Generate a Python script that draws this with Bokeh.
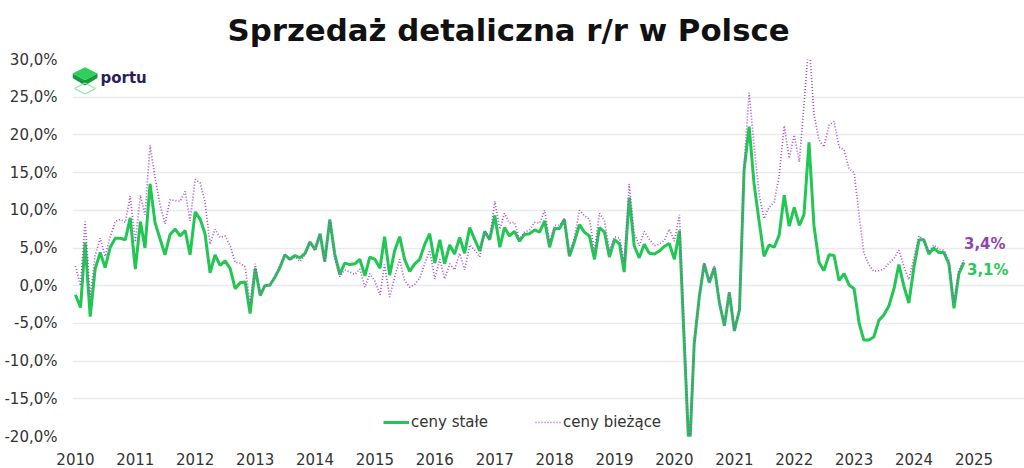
import pandas as pd
from bokeh.plotting import figure
from bokeh.models import (Range1d, FixedTicker, DatetimeTickFormatter, Legend,
                          LegendItem, Label)
from bokeh.embed import file_html
from bokeh.resources import INLINE

# ---------------- data ----------------
months = pd.date_range("2010-01-01", "2024-11-01", freq="MS")

ceny_stale = [
    -1.2, -2.9, 5.7, -4.1, 2.2, 4.4, 2.4, 5.1, 6.3, 6.3, 6.1, 9.0,      # 2010
    2.2, 8.5, 5.0, 13.5, 8.4, 6.2, 4.1, 6.8, 7.5, 6.6, 7.3, 4.1,        # 2011
    9.8, 8.8, 6.9, 1.7, 4.1, 2.7, 3.3, 2.3, -0.4, 0.4, 0.5, -3.7,       # 2012
    2.3, -1.3, 0.0, 0.1, 1.1, 2.4, 4.1, 3.5, 4.0, 3.7, 4.3, 5.8,        # 2013
    4.8, 6.9, 3.2, 8.8, 4.2, 1.5, 3.0, 2.8, 2.9, 3.5, 1.3, 3.8,         # 2014
    3.5, 2.3, 6.5, 1.4, 4.6, 6.5, 3.5, 1.9, 2.9, 3.5, 5.5, 6.9,         # 2015
    3.0, 6.1, 2.9, 5.4, 4.2, 6.4, 4.3, 7.7, 6.1, 4.6, 7.2, 6.1,         # 2016
    9.3, 5.1, 7.7, 6.6, 7.2, 5.9, 6.8, 6.9, 7.4, 7.1, 8.6, 5.1,         # 2017
    7.6, 7.6, 8.8, 3.9, 5.8, 8.1, 7.1, 6.6, 3.5, 7.7, 7.1, 3.8,         # 2018
    6.1, 5.5, 1.8, 11.7, 5.3, 3.7, 5.5, 4.3, 4.2, 4.6, 5.2, 5.6,        # 2019
    3.5, 7.3, -7.5, -22.9, -7.7, -1.5, 2.9, 0.4, 2.4, -2.2, -5.3, -0.9, # 2020
    -6.0, -3.2, 15.3, 21.1, 13.5, 8.5, 3.9, 5.4, 5.1, 6.7, 12.0, 7.9,   # 2021
    10.4, 8.0, 9.4, 19.0, 8.0, 3.1, 2.0, 4.1, 4.0, 0.7, 1.6, 0.1,       # 2022
    -0.4, -5.0, -7.2, -7.2, -6.8, -4.6, -3.9, -2.7, -0.4, 2.8, -0.1, -2.3,  # 2023
    2.5, 6.1, 6.1, 4.2, 5.0, 4.4, 4.4, 2.9, -3.0, 1.6, 3.1,             # 2024
]

ceny_biezace = [
    2.6, 0.0, 8.5, -1.5, 4.0, 6.3, 3.9, 6.5, 8.5, 8.8, 8.4, 11.9,       # 2010
    5.8, 12.0, 9.4, 18.6, 14.4, 10.7, 8.2, 11.4, 11.3, 11.2, 12.5, 8.6, # 2011
    14.1, 13.6, 11.1, 5.5, 7.5, 6.4, 6.6, 5.3, 3.1, 3.0, 2.5, -2.4,     # 2012
    2.9, -1.1, 0.0, 0.0, 1.3, 2.7, 4.2, 3.4, 3.8, 3.2, 4.1, 5.8,        # 2013
    4.6, 6.8, 3.1, 8.5, 3.7, 1.2, 2.1, 1.8, 1.5, 2.2, -0.2, 1.6,        # 2014
    0.6, -1.2, 2.8, -1.5, 1.1, 3.5, 0.7, -0.2, 0.2, 1.0, 2.9, 4.7,      # 2015
    0.9, 3.5, 0.9, 2.9, 2.1, 4.3, 2.1, 5.4, 4.7, 3.8, 7.3, 6.3,         # 2016
    11.2, 7.5, 9.6, 8.3, 8.4, 6.2, 7.1, 7.4, 8.4, 8.3, 10.0, 5.8,       # 2017
    8.0, 8.0, 8.9, 4.2, 6.3, 10.0, 9.3, 8.8, 4.6, 9.6, 8.6, 4.7,        # 2018
    6.5, 6.3, 3.1, 13.5, 6.9, 5.3, 7.2, 6.2, 5.3, 5.5, 6.0, 7.5,        # 2019
    5.9, 9.4, -5.5, -22.6, -7.6, -1.2, 3.1, 0.6, 2.6, -2.0, -5.2, -0.7, # 2020
    -5.9, -3.1, 16.0, 25.6, 18.6, 12.0, 8.9, 10.4, 11.1, 14.6, 21.2, 16.9,  # 2021
    20.0, 16.4, 23.9, 32.5, 22.8, 19.3, 18.4, 21.3, 21.8, 18.4, 18.0, 15.5, # 2022
    15.0, 9.3, 4.4, 2.8, 1.9, 2.0, 2.2, 3.0, 3.6, 4.7, 2.5, 0.8,        # 2023
    3.8, 6.6, 6.0, 4.5, 5.4, 4.8, 4.7, 3.4, -2.3, 2.1, 3.4,             # 2024
]

series_names = ["ceny stałe", "ceny bieżące"]
year_ticks = list(range(2010, 2026))
pct_ticks = list(range(-20, 31, 5))
title_text = "Sprzedaż detaliczna r/r w Polsce"
brand = "portu"

# ---------------- styling ----------------
GREEN = "#21c653"
PURPLE = "#a452d2"
GREEN_LBL = "#2bc95a"
PURPLE_LBL = "#8e46b4"
FONT = "DejaVu Sans"

x_start = pd.Timestamp("2009-12-14")
x_end = pd.Timestamp("2025-11-05")

p = figure(width=1024, height=468, x_axis_type="datetime",
           x_range=Range1d(x_start, x_end), y_range=Range1d(-20, 30),
           toolbar_location=None, output_backend="svg",
           min_border_left=72, min_border_right=0,
           min_border_top=59, min_border_bottom=32)
p.outline_line_color = None
p.background_fill_color = "white"

p.title.text = title_text
p.title.text_font = FONT
p.title.text_font_style = "bold"
p.title.text_font_size = "30.8px"
p.title.text_color = "#111111"
p.title.align = "left"
p.title.vertical_align = "top"
p.title.offset = 155
p.title.standoff = 20

# axes
p.xaxis.ticker = FixedTicker(ticks=[pd.Timestamp(f"{y}-01-01").value / 1e6 for y in year_ticks])
p.xaxis.formatter = DatetimeTickFormatter(years="%Y", months="%Y", days="%Y",
                                          hours="%Y", minutes="%Y", seconds="%Y",
                                          milliseconds="%Y", microseconds="%Y")
p.yaxis.ticker = FixedTicker(ticks=pct_ticks)
p.yaxis.major_label_overrides = {t: f"{t:.1f}%".replace(".", ",") for t in pct_ticks}
for ax in (p.xaxis, p.yaxis):
    ax.axis_line_color = None
    ax.major_tick_line_color = None
    ax.minor_tick_line_color = None
    ax.major_label_text_font = FONT
    ax.major_label_text_font_size = "15px"
    ax.major_label_text_color = "#333333"
p.yaxis.major_label_standoff = 9
p.xaxis.major_label_standoff = 10

p.xgrid.grid_line_color = None
p.ygrid.grid_line_color = "#e9e9f0"
p.ygrid.grid_line_width = 1.6

# lines
r1 = p.line(months, ceny_stale, line_color=GREEN, line_width=3)
r2 = p.line(months, ceny_biezace, line_color=PURPLE, line_width=1.7, line_dash="1 2")

legend = Legend(items=[LegendItem(label=series_names[0], renderers=[r1]),
                       LegendItem(label=series_names[1], renderers=[r2])],
                orientation="horizontal", location=(311, 4),
                background_fill_alpha=0, border_line_alpha=0,
                label_text_font=FONT, label_text_font_size="15px",
                label_text_color="#333333", glyph_width=26, label_standoff=2,
                spacing=47, padding=0, margin=0)
p.add_layout(legend)

# end-value labels
def pct_label(v):
    return f"{v:.1f}%".replace(".", ",")

p.add_layout(Label(x=months[-1], y=ceny_biezace[-1], x_offset=0, y_offset=16,
                   text=pct_label(ceny_biezace[-1]), text_color=PURPLE_LBL,
                   text_font=FONT, text_font_style="bold", text_font_size="15px",
                   text_baseline="middle"))
p.add_layout(Label(x=months[-1], y=ceny_stale[-1], x_offset=3, y_offset=-8,
                   text=pct_label(ceny_stale[-1]), text_color=GREEN_LBL,
                   text_font=FONT, text_font_style="bold", text_font_size="15px",
                   text_baseline="middle"))

# logo (decoration placed by page pixel -> data conversion)
x0_ms = x_start.value / 1e6
x1_ms = x_end.value / 1e6
def px_x(px):
    return x0_ms + (px - 72) / (1024 - 72) * (x1_ms - x0_ms)
def px_y(py):
    return 30 - (py - 59) / (436 - 59) * 50

side = [(72, 73), (84.5, 79.5), (97, 73), (97, 77.5), (84.5, 85), (72, 77.5)]
top = [(72, 73), (84.5, 66.7), (97, 73), (84.5, 79.5)]
under = [(74, 88), (84.5, 82.5), (95, 88), (84.5, 93.5), (74, 88)]
p.patch([px_x(a) for a, b in side], [px_y(b) for a, b in side], fill_color="#169a3d", line_color=None)
p.patch([px_x(a) for a, b in top], [px_y(b) for a, b in top], fill_color="#2fcf5c", line_color=None)
p.line([px_x(a) for a, b in under], [px_y(b) for a, b in under], line_color="#8fe3a8", line_width=1.2)
p.add_layout(Label(x=px_x(100), y=px_y(77), text=brand, text_color="#2a1f5c",
                   text_font=FONT, text_font_style="bold", text_font_size="15px",
                   text_baseline="middle"))

open("out.html", "w").write(file_html(p, INLINE))
